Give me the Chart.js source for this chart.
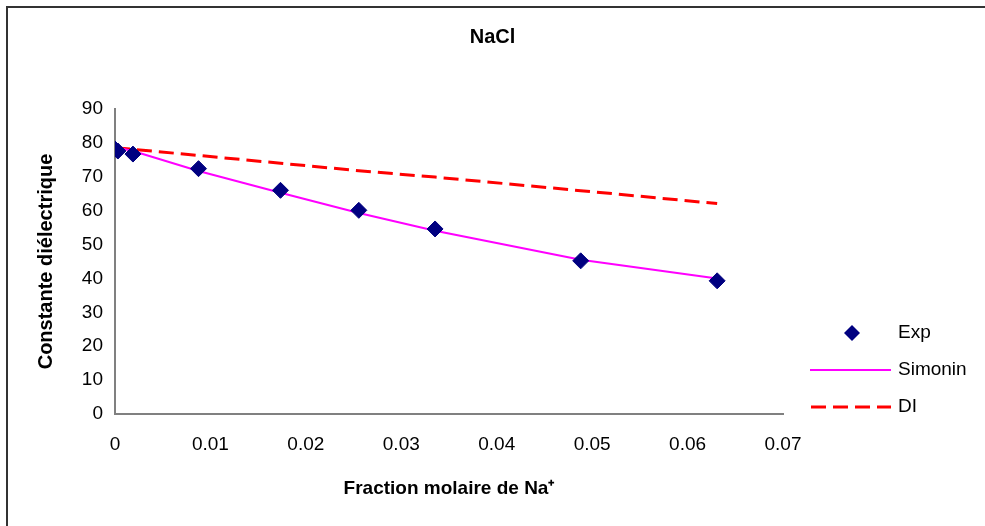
<!DOCTYPE html>
<html>
<head>
<meta charset="utf-8">
<script src="https://cdn.jsdelivr.net/npm/chart.js@4.4.0/dist/chart.umd.min.js"></script>
<style>
  html, body { margin: 0; padding: 0; background: #fff; }
  #wrap { position: relative; width: 985px; height: 526px; }
  #frame { position: absolute; left: 6px; top: 6px; right: 0; bottom: 0;
           border-left: 2px solid #333; border-top: 2px solid #333; }
  canvas { position: absolute; left: 0; top: 0; }
</style>
</head>
<body>
<div id="wrap">
  <div id="frame"></div>
  <canvas id="chart" width="985" height="526"></canvas>
</div>
<script>
const fractions = [0, 0.0003, 0.00188, 0.00875, 0.01734, 0.02555, 0.03354, 0.0488, 0.0631];
const expValues = [78.2, 77.6, 76.7, 72.4, 66.0, 60.1, 54.6, 45.2, 39.3];
const simoninValues = [78.8, 78.6, 77.6, 71.7, 65.3, 59.3, 54.1, 45.5, 40.0];
const diValues = [78.6, 78.5, 78.1, 76.3, 74.0, 71.8, 69.9, 65.9, 62.1];
const xTicks = [0, 0.01, 0.02, 0.03, 0.04, 0.05, 0.06, 0.07];

const pts = vals => fractions.map((x, i) => ({ x: x, y: vals[i] }));
const font = 'Arial, "Liberation Sans", sans-serif';

// legend drawn on the right like the original
const sideLegend = {
  id: 'sideLegend',
  afterDraw(chart) {
    const c = chart.ctx;
    c.save();
    c.font = '19px ' + font;
    c.textBaseline = 'middle';
    // Exp
    c.fillStyle = '#000080';
    c.beginPath();
    c.moveTo(852, 325); c.lineTo(860, 333); c.lineTo(852, 341); c.lineTo(844, 333);
    c.closePath(); c.fill();
    c.fillStyle = '#000';
    c.fillText('Exp', 898, 333);
    // Simonin
    c.strokeStyle = '#FF00FF';
    c.lineWidth = 2;
    c.beginPath(); c.moveTo(810, 370); c.lineTo(891, 370); c.stroke();
    c.fillText('Simonin', 898, 370);
    // DI
    c.strokeStyle = '#FF0000';
    c.lineWidth = 3;
    c.setLineDash([15, 7]);
    c.beginPath(); c.moveTo(811, 407); c.lineTo(891, 407); c.stroke();
    c.setLineDash([]);
    c.fillText('DI', 898, 407);
    c.restore();
  }
};

new Chart(document.getElementById('chart'), {
  type: 'scatter',
  data: {
    datasets: [
      {
        label: 'Exp',
        data: pts(expValues),
        pointStyle: 'rectRot',
        pointRadius: 8,
        pointHoverRadius: 8,
        backgroundColor: '#000080',
        borderColor: '#000080',
        showLine: false,
        order: 0
      },
      {
        label: 'Simonin',
        data: pts(simoninValues),
        showLine: true,
        borderColor: '#FF00FF',
        borderWidth: 2,
        pointRadius: 0,
        order: 1
      },
      {
        label: 'DI',
        data: pts(diValues),
        showLine: true,
        borderColor: '#FF0000',
        borderWidth: 3,
        borderDash: [15, 7],
        pointRadius: 0,
        order: 2
      }
    ]
  },
  options: {
    responsive: false,
    animation: false,
    layout: { padding: { left: 0, right: 0, top: 0, bottom: 0 } },
    plugins: {
      legend: { display: false },
      tooltip: { enabled: false },
      title: {
        display: true,
        text: 'NaCl',
        color: '#000',
        font: { family: font, size: 20, weight: 'bold', lineHeight: 1.2 },
        padding: { top: 25, bottom: 60 }
      }
    },
    scales: {
      x: {
        type: 'linear',
        min: 0,
        max: 0.07,
        afterBuildTicks: s => { s.ticks = xTicks.map(v => ({ value: v })); },
        afterFit: s => { s.height = 112; },
        grid: { display: false, drawTicks: true, tickLength: 6, tickColor: '#808080' },
        border: { display: true, color: '#808080', width: 2 },
        ticks: {
          color: '#000',
          font: { family: font, size: 19 },
          padding: 13,
          maxRotation: 0,
          callback: v => String(Math.round(v * 100) / 100)
        },
        title: {
          display: true,
          text: 'Fraction molaire de Na⁺',
          color: '#000',
          font: { family: font, size: 19, weight: 'bold' },
          padding: { top: 8, bottom: 26 }
        }
      },
      y: {
        min: 0,
        max: 90,
        afterFit: s => { s.width = 115; },
        grid: { display: false, drawTicks: true, tickLength: 6, tickColor: '#808080' },
        border: { display: true, color: '#808080', width: 2 },
        ticks: {
          stepSize: 10,
          color: '#000',
          font: { family: font, size: 19 },
          padding: 6
        },
        title: {
          display: true,
          text: 'Constante diélectrique',
          color: '#000',
          font: { family: font, size: 20, weight: 'bold' },
          padding: { top: 34, bottom: 4 }
        }
      },
      // empty right-hand box that keeps room for the legend
      side: {
        type: 'linear',
        position: 'right',
        afterFit: s => { s.width = 202; },
        grid: { display: false },
        border: { display: false },
        ticks: { display: false }
      }
    }
  },
  plugins: [sideLegend]
});
</script>
</body>
</html>
